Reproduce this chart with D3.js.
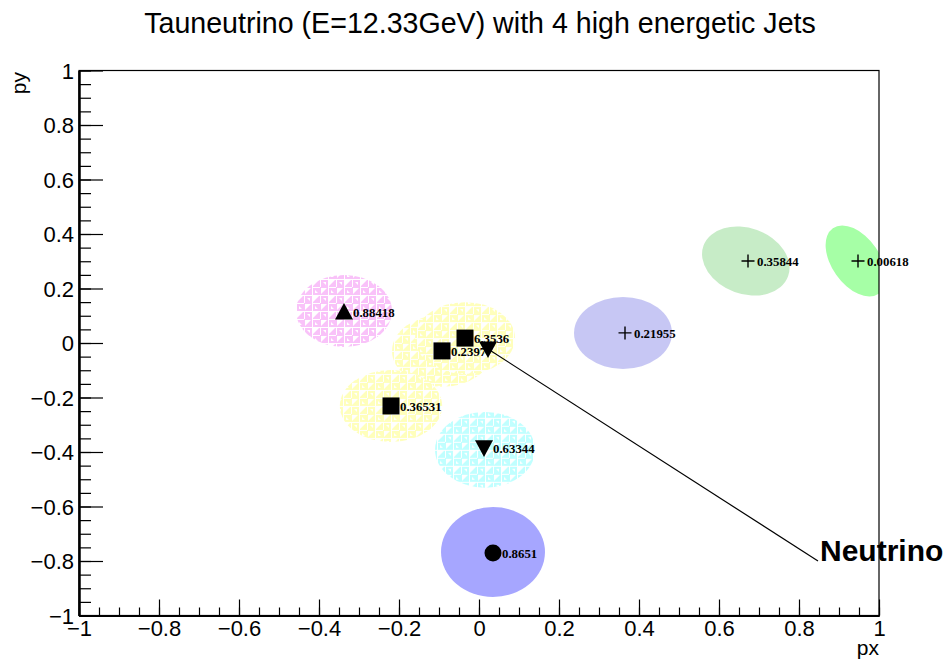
<!DOCTYPE html>
<html>
<head>
<meta charset="utf-8">
<script src="https://cdn.jsdelivr.net/npm/d3@7"></script>
<style>
  html, body { margin: 0; padding: 0; background: #fff; }
  svg { display: block; }
</style>
</head>
<body>
<svg id="chart" width="949" height="660"></svg>
<script>
// Jet / neutrino momentum map (px, py)
const jetNames   = ["tri-up", "sq-a", "sq-b", "sq-c", "tri-down", "circle", "plus-a", "plus-b", "plus-c"];
const jetPx      = [-0.3375, -0.0925, -0.035, -0.22, 0.0125, 0.035, 0.365, 0.6725, 0.9475];
const jetPy      = [0.114, -0.029, 0.018, -0.231, -0.385, -0.771, 0.037, 0.301, 0.301];
const jetLabels  = ["0.88418", "0.2397", "6.3536", "0.36531", "0.63344", "0.8651", "0.21955", "0.35844", "0.00618"];
const jetSymbols = ["triangleUp", "square", "square", "square", "triangleDown", "circle", "plus", "plus", "plus"];

// Uncertainty ellipses: centre, semi-axes (data units) and tilt in degrees
const ellCx    = [-0.3375, -0.0925, -0.035, -0.22, 0.015, 0.035, 0.36, 0.667, 0.942];
const ellCy    = [0.1175, -0.029, 0.018, -0.231, -0.392, -0.767, 0.037, 0.301, 0.301];
const ellRx    = [0.12, 0.125, 0.125, 0.128, 0.125, 0.13, 0.1225, 0.1125, 0.1];
const ellRy    = [0.132, 0.132, 0.132, 0.132, 0.139, 0.165, 0.132, 0.121, 0.088];
const ellTilt  = [0, 0, 0, 0, 0, 0, 0, 20, 55];
const ellFill  = ["hatch-pink", "hatch-yellow", "hatch-yellow", "hatch-yellow", "hatch-cyan", "#0000ff", "#0000cc", "#00aa00", "#00ff00"];
const ellAlpha = [1, 1, 1, 1, 1, 0.35, 0.22, 0.22, 0.35];

// Neutrino direction and its caption
const nuPx = 0.0225, nuPy = -0.022;
const nuLabelPx = 0.8475, nuLabelPy = -0.8;
const nuLabel = "Neutrino";

const titleText = "Tauneutrino (E=12.33GeV) with 4 high energetic Jets";
const xTicks = [-1, -0.8, -0.6, -0.4, -0.2, 0, 0.2, 0.4, 0.6, 0.8, 1];
const yTicks = [-1, -0.8, -0.6, -0.4, -0.2, 0, 0.2, 0.4, 0.6, 0.8, 1];
const minorStep = 0.05;

const svg = d3.select("#chart");
const frame = { left: 79, right: 879, top: 70.5, bottom: 615.5 };

const x = d3.scaleLinear().domain([-1, 1]).range([frame.left, frame.right]);
const y = d3.scaleLinear().domain([-1, 1]).range([frame.bottom, frame.top]);

const sans = "'Liberation Sans', Arial, Helvetica, sans-serif";
const serif = "'Liberation Serif', 'Times New Roman', serif";

// ---- hatch patterns ----
const defs = svg.append("defs");
const hatchColours = { "hatch-pink": "#f9c2f9", "hatch-yellow": "#ffffbc", "hatch-cyan": "#c0ffff" };
Object.entries(hatchColours).forEach(([id, col]) => {
  const p = defs.append("pattern").attr("id", id)
    .attr("patternUnits", "userSpaceOnUse").attr("width", 16).attr("height", 16);
  p.append("rect").attr("width", 16).attr("height", 16).attr("fill", col);
  // white cut-outs giving the triangle / square weave
  p.append("path").attr("fill", "#fff")
    .attr("d", "M1,1H7L1,7Z M9,9H15L9,15Z M0,0H16V1H0Z M0,0H1V16H0Z M8,0H9V8H8Z M0,8H8V9H0Z M11,3H14V6Z M3,11V14H6Z");
});

defs.append("clipPath").attr("id", "frameClip")
  .append("rect").attr("x", frame.left).attr("y", frame.top)
  .attr("width", frame.right - frame.left).attr("height", frame.bottom - frame.top);

// ---- title ----
svg.append("text")
  .attr("x", 480).attr("y", 33)
  .attr("text-anchor", "middle")
  .attr("font-family", sans).attr("font-size", 28.6)
  .attr("fill", "#000")
  .text(titleText);

const jets = jetNames.map((n, i) => ({
  name: n, px: jetPx[i], py: jetPy[i], label: jetLabels[i], symbol: jetSymbols[i]
}));
const ellipses = ellCx.map((cx, i) => ({
  cx, cy: ellCy[i], rx: ellRx[i], ry: ellRy[i], tilt: ellTilt[i], fill: ellFill[i], alpha: ellAlpha[i]
}));

const plot = svg.append("g").attr("clip-path", "url(#frameClip)");

function drawEllipses(g, list) {
  g.append("g").selectAll("ellipse")
    .data(list).enter().append("ellipse")
    .attr("cx", 0).attr("cy", 0)
    .attr("rx", d => x(d.rx) - x(0))
    .attr("ry", d => y(0) - y(d.ry))
    .attr("transform", d => `translate(${x(d.cx)},${y(d.cy)}) rotate(${d.tilt})`)
    .attr("fill", d => d.fill.startsWith("hatch") ? `url(#${d.fill})` : d.fill)
    .attr("fill-opacity", d => d.alpha);
}

// patterned ellipses first
drawEllipses(plot, ellipses.filter(d => d.fill.startsWith("hatch")));

// value labels
const labelLayer = svg.append("g");
labelLayer.selectAll("text").data(jets).enter().append("text")
  .attr("x", d => x(d.px) + 9)
  .attr("y", d => y(d.py) + 5)
  .attr("font-family", serif).attr("font-weight", "bold").attr("font-size", 12.8)
  .attr("fill", "#000")
  .text(d => d.label);

// marker outlines
const symbolPath = {
  triangleUp:   s => `M0,${-s * 0.5}L${s * 0.5},${s * 0.42}L${-s * 0.5},${s * 0.42}Z`,
  triangleDown: s => `M0,${s * 0.5}L${s * 0.5},${-s * 0.42}L${-s * 0.5},${-s * 0.42}Z`,
  square:       s => `M${-s / 2},${-s / 2}h${s}v${s}h${-s}Z`,
  circle:       s => `M${s / 2},0A${s / 2},${s / 2} 0 1 1 ${-s / 2},0A${s / 2},${s / 2} 0 1 1 ${s / 2},0Z`
};

// thin cross markers sit under the translucent ellipses
const plusLayer = svg.append("g");
plusLayer.selectAll("path").data(jets.filter(d => d.symbol === "plus")).enter().append("path")
  .attr("transform", d => `translate(${x(d.px)},${y(d.py)})`)
  .attr("d", "M-6.5,0H6.5M0,-6.5V6.5")
  .attr("stroke", "#000").attr("stroke-width", 1.4).attr("fill", "none");

// translucent filled ellipses
drawEllipses(plot, ellipses.filter(d => !d.fill.startsWith("hatch")));

// solid markers
const markerSize = { triangleUp: 18, triangleDown: 18, square: 17, circle: 17 };
svg.append("g").selectAll("path").data(jets.filter(d => d.symbol !== "plus")).enter().append("path")
  .attr("transform", d => `translate(${x(d.px)},${y(d.py)})`)
  .attr("d", d => symbolPath[d.symbol](markerSize[d.symbol]))
  .attr("fill", "#000");

// neutrino marker, pointer line and caption
svg.append("path")
  .attr("transform", `translate(${x(nuPx)},${y(nuPy)})`)
  .attr("d", symbolPath.triangleDown(18))
  .attr("fill", "#000");
svg.append("line")
  .attr("x1", x(nuPx)).attr("y1", y(nuPy))
  .attr("x2", x(nuLabelPx)).attr("y2", y(nuLabelPy))
  .attr("stroke", "#000").attr("stroke-width", 1.2);
svg.append("text")
  .attr("x", x(nuLabelPx) + 2).attr("y", y(nuLabelPy))
  .attr("font-family", sans).attr("font-weight", "bold").attr("font-size", 30)
  .attr("fill", "#000")
  .text(nuLabel);

// ---- frame ----
svg.append("rect")
  .attr("x", frame.left).attr("y", frame.top)
  .attr("width", frame.right - frame.left).attr("height", frame.bottom - frame.top)
  .attr("fill", "none").attr("stroke", "#000").attr("stroke-width", 1.2);

const fmt = d => d3.format("~g")(d);
const minorX = d3.range(-1, 1 + 1e-9, minorStep).map(v => +v.toFixed(2));
const minorY = minorX;

// x axis
const xMinor = svg.append("g").attr("transform", `translate(0,${frame.bottom})`)
  .call(d3.axisBottom(x).tickValues(minorX).tickSizeInner(-8).tickSizeOuter(0).tickFormat(""));
const xMajor = svg.append("g").attr("transform", `translate(0,${frame.bottom})`)
  .call(d3.axisBottom(x).tickValues(xTicks).tickSizeInner(-16).tickSizeOuter(0).tickPadding(5).tickFormat(fmt));

// y axis
const yMinor = svg.append("g").attr("transform", `translate(${frame.left},0)`)
  .call(d3.axisLeft(y).tickValues(minorY).tickSizeInner(-12).tickSizeOuter(0).tickFormat(""));
const yMajor = svg.append("g").attr("transform", `translate(${frame.left},0)`)
  .call(d3.axisLeft(y).tickValues(yTicks).tickSizeInner(-24).tickSizeOuter(0).tickPadding(5).tickFormat(fmt));

[xMinor, xMajor, yMinor, yMajor].forEach(g => {
  g.select(".domain").attr("stroke", "#000").attr("stroke-width", 2);
  g.selectAll(".tick line").attr("stroke", "#000").attr("stroke-width", 1.2);
  g.selectAll("text").attr("font-family", sans).attr("font-size", 22).attr("fill", "#000");
});
yMajor.selectAll("text").attr("dy", "0.36em");

// axis titles
svg.append("text")
  .attr("x", 879).attr("y", 655)
  .attr("text-anchor", "end")
  .attr("font-family", sans).attr("font-size", 21).attr("fill", "#000")
  .text("px");
svg.append("text")
  .attr("transform", "translate(26,72) rotate(-90)")
  .attr("text-anchor", "end")
  .attr("font-family", sans).attr("font-size", 21).attr("fill", "#000")
  .text("py");
</script>
</body>
</html>
